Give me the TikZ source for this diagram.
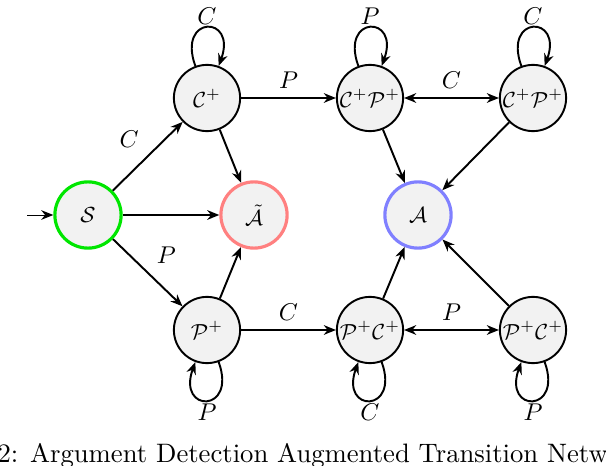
\documentclass[tikz,border=0pt]{standalone}
\usepackage{amsmath,amssymb}
\usetikzlibrary{arrows.meta}
\begin{document}
\begin{tikzpicture}[x=0.0145cm,y=-0.0145cm,>={Stealth[length=5pt,width=4pt]},
  st/.style={circle,draw,thick,fill=gray!10,minimum size=0.96cm,inner sep=0pt,font=\small},
  ed/.style={->,thick},
  lp/.style={->,thick,looseness=6}]
\clip (0,0) rectangle (606,466);
\node[st,draw={rgb,255:red,0;green,230;blue,0},line width=1.3pt] (S) at (88,215) {$\mathcal{S}$};
\node[st] (C) at (207,98) {$\mathcal{C}^{+}$};
\node[st,draw={rgb,255:red,255;green,128;blue,128},line width=1.3pt] (At) at (254,215) {$\tilde{\mathcal{A}}$};
\node[st] (P) at (207,330) {$\mathcal{P}^{+}$};
\node[st] (CP) at (370,98) {$\mathcal{C}^{+}\mathcal{P}^{+}$};
\node[st,draw={rgb,255:red,128;green,128;blue,255},line width=1.3pt] (A) at (418,215) {$\mathcal{A}$};
\node[st] (CPr) at (533,98) {$\mathcal{C}^{+}\mathcal{P}^{+}$};
\node[st] (PC) at (370,330) {$\mathcal{P}^{+}\mathcal{C}^{+}$};
\node[st] (PCr) at (533,330) {$\mathcal{P}^{+}\mathcal{C}^{+}$};
\coordinate (start) at (27,215);
\draw[->] (start) -- (S);
\draw[ed] (S) -- node[above left]{$C$} (C);
\draw[ed] (S) -- (At);
\draw[ed] (S) -- node[above right]{$P$} (P);
\draw[ed] (C) -- (At);
\draw[ed] (P) -- (At);
\draw[ed] (C) -- node[above]{$P$} (CP);
\draw[<->,thick] (CP) -- node[above]{$C$} (CPr);
\draw[ed] (CP) -- (A);
\draw[ed] (CPr) -- (A);
\draw[ed] (P) -- node[above]{$C$} (PC);
\draw[<->,thick] (PC) -- node[above]{$P$} (PCr);
\draw[ed] (PC) -- (A);
\draw[ed] (PCr) -- (A);
\draw[lp] (C) to[out=110,in=70] node[above,inner sep=1pt]{$C$} (C);
\draw[lp] (CP) to[out=110,in=70] node[above,inner sep=1pt]{$P$} (CP);
\draw[lp] (CPr) to[out=110,in=70] node[above,inner sep=1pt]{$C$} (CPr);
\draw[lp] (P) to[out=-70,in=-110] node[below,inner sep=1pt]{$P$} (P);
\draw[lp] (PC) to[out=-70,in=-110] node[below,inner sep=1pt]{$C$} (PC);
\draw[lp] (PCr) to[out=-70,in=-110] node[below,inner sep=1pt]{$P$} (PCr);
\node[anchor=west,inner sep=0pt,scale=1.1] (cap) at (-3,456) {2: Argument Detection Augmented Transition Network};
\end{tikzpicture}
\end{document}
